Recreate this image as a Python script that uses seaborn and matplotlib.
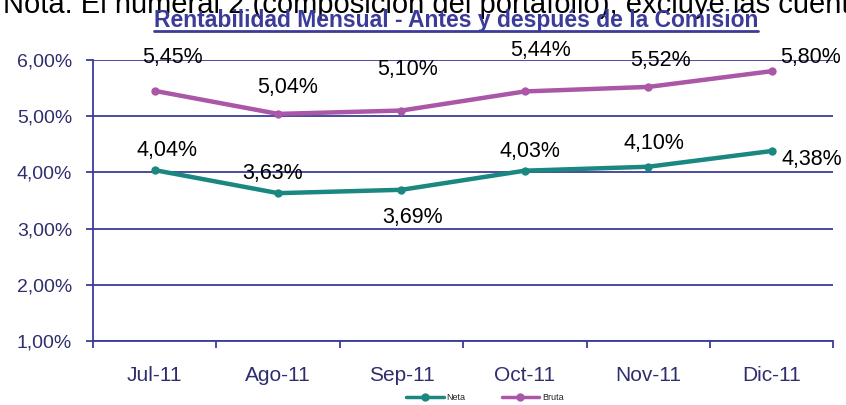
import pandas as pd
import seaborn as sns
import matplotlib.pyplot as plt
from matplotlib.lines import Line2D
from matplotlib.ticker import FixedLocator, FuncFormatter

meses = ["Jul-11", "Ago-11", "Sep-11", "Oct-11", "Nov-11", "Dic-11"]
neta = [4.04, 3.63, 3.69, 4.03, 4.10, 4.38]
bruta = [5.45, 5.04, 5.10, 5.44, 5.52, 5.80]
series = ["Neta", "Bruta"]

# label offsets (points) per series
neta_off = [(9, 14), (-4, 14), (8, -20), (4, 14), (4, 17), (29, -6)]
bruta_off = [(13, 24), (7, 19), (4, 29.5), (11, 29.5), (9, 19), (28, 10)]

sns.set_style("white")
plt.rcParams["font.family"] = ["Liberation Sans", "DejaVu Sans"]

df = pd.DataFrame({
    "mes": meses * 2,
    "valor": neta + bruta,
    "serie": ["Neta"] * len(meses) + ["Bruta"] * len(meses),
})

grid_col = "#3b3b9a"
txt_col = "#2e2e6e"
palette = {"Neta": "#1a8780", "Bruta": "#a957a6"}

fig = plt.figure(figsize=(8.46, 4.05), dpi=100)
ax = fig.add_axes([0.11, 0.158, 0.875, 0.694])

sns.lineplot(data=df, x="mes", y="valor", hue="serie", hue_order=series,
             palette=palette, marker="o", markersize=6, markeredgewidth=0,
             linewidth=3.2, ax=ax, sort=False, legend=False)

ax.set_xlim(-0.5, 5.5)
ax.set_ylim(1, 6)
ax.yaxis.set_major_locator(FixedLocator([1, 2, 3, 4, 5, 6]))
ax.yaxis.set_major_formatter(FuncFormatter(lambda v, p: f"{v:.2f}%".replace(".", ",")))
ax.grid(axis="y", color=grid_col, linewidth=1.3)
ax.set_axisbelow(True)
for s in ["top", "right"]:
    ax.spines[s].set_visible(False)
for s in ["left", "bottom"]:
    ax.spines[s].set_color(grid_col)
    ax.spines[s].set_linewidth(1.3)
ax.tick_params(axis="y", length=5, color=grid_col, width=1.3, labelsize=14,
               labelcolor=txt_col, left=True, pad=10)
ax.tick_params(axis="x", which="major", length=0, labelsize=15, labelcolor=txt_col, pad=18)
ax.xaxis.set_minor_locator(FixedLocator([i - 0.5 for i in range(len(meses) + 1)]))
ax.tick_params(axis="x", which="minor", length=5, color=grid_col, width=1.3, bottom=True)
ax.set_xlabel("")
ax.set_ylabel("")

for vals, offs in [(neta, neta_off), (bruta, bruta_off)]:
    for i, v in enumerate(vals):
        ax.annotate(f"{v:.2f}%".replace(".", ","), (i, v), xytext=offs[i],
                    textcoords="offset points", ha="center", va="center",
                    fontsize=15.5, color="black")

handles = [Line2D([], [], color=palette[s], marker="o", markersize=5, linewidth=2.5)
           for s in series]
fig.legend(handles, series, loc="center", bbox_to_anchor=(0.573, 0.018), ncol=2,
           frameon=False, fontsize=6.5, handlelength=4.2, columnspacing=4,
           handletextpad=0.3)

fig.text(0.004, 1 - 13 / 405, "Nota: El numeral 2 (composición del portafolio), excluye las cuentas",
         fontsize=21, color="black", ha="left", va="baseline")
title = fig.text(0.539, 1 - 27 / 405, "Rentabilidad Mensual - Antes y después de la Comisión",
                 fontsize=16.5, fontweight="bold", color=grid_col, ha="center",
                 va="baseline")
fig.canvas.draw()
bb = title.get_window_extent().transformed(fig.transFigure.inverted())
fig.add_artist(Line2D([bb.x0, bb.x1], [1 - 31 / 405] * 2, color=grid_col,
                      linewidth=2, transform=fig.transFigure))

fig.savefig("out.png", dpi=100)
